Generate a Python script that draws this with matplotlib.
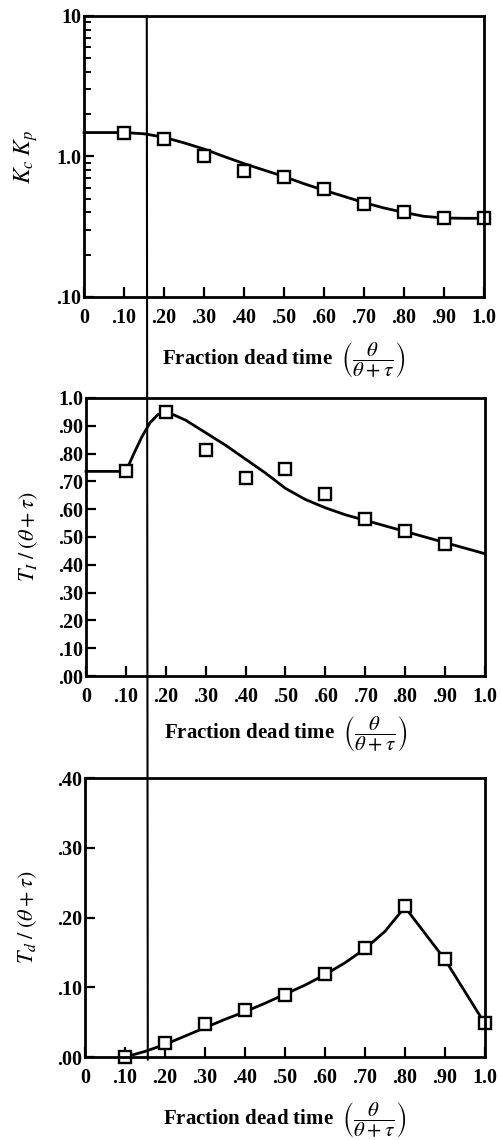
import numpy as np
import matplotlib.pyplot as plt
from matplotlib.patches import ConnectionPatch
from matplotlib.ticker import FixedLocator, LogLocator, NullFormatter

plt.rcParams['font.family'] = ['Liberation Serif', 'DejaVu Serif']
plt.rcParams['mathtext.fontset'] = 'stix'

# eje x comun
frac_ticks = [0, 0.1, 0.2, 0.3, 0.4, 0.5, 0.6, 0.7, 0.8, 0.9, 1.0]
frac_labels = ['0', '.10', '.20', '.30', '.40', '.50', '.60', '.70', '.80', '.90', '1.0']

# Kc*Kp (escala log)
kc_x = [0.1, 0.2, 0.3, 0.4, 0.5, 0.6, 0.7, 0.8, 0.9, 1.0]
kc_pts = [1.48, 1.33, 1.00, 0.79, 0.71, 0.59, 0.46, 0.40, 0.363, 0.363]
kc_curva_x = [0.0, 0.10, 0.15, 0.20, 0.25, 0.30, 0.35, 0.40, 0.45, 0.50, 0.55,
              0.60, 0.65, 0.70, 0.75, 0.80, 0.85, 0.90, 0.95, 1.00]
kc_curva_y = [1.48, 1.48, 1.45, 1.37, 1.25, 1.13, 1.00, 0.89, 0.80, 0.72, 0.64,
              0.575, 0.52, 0.47, 0.43, 0.40, 0.375, 0.365, 0.363, 0.363]

# Ti/(theta+tau)
ti_x = [0.1, 0.2, 0.3, 0.4, 0.5, 0.6, 0.7, 0.8, 0.9]
ti_pts = [0.736, 0.948, 0.814, 0.712, 0.744, 0.654, 0.565, 0.522, 0.475]
ti_curva_x = [0.0, 0.10, 0.12, 0.14, 0.16, 0.18, 0.20, 0.25, 0.30, 0.35, 0.40,
              0.45, 0.50, 0.55, 0.60, 0.65, 0.70, 0.75, 0.80, 0.85, 0.90, 0.95, 1.00]
ti_curva_y = [0.736, 0.736, 0.80, 0.86, 0.91, 0.94, 0.952, 0.92, 0.875, 0.83, 0.78,
              0.73, 0.675, 0.635, 0.605, 0.58, 0.56, 0.54, 0.52, 0.50, 0.48, 0.46, 0.44]

# Td/(theta+tau)
td_x = [0.1, 0.2, 0.3, 0.4, 0.5, 0.6, 0.7, 0.8, 0.9, 1.0]
td_pts = [0.0, 0.020, 0.048, 0.068, 0.089, 0.119, 0.156, 0.216, 0.140, 0.049]
td_curva_x = [0.10, 0.15, 0.20, 0.25, 0.30, 0.35, 0.40, 0.45, 0.50, 0.55, 0.60,
              0.65, 0.70, 0.75, 0.80, 0.90, 1.00]
td_curva_y = [0.0, 0.008, 0.018, 0.030, 0.042, 0.054, 0.065, 0.077, 0.090, 0.103, 0.118,
              0.135, 0.155, 0.180, 0.215, 0.140, 0.048]

linea_x = 0.157  # linea vertical de referencia

fig = plt.figure(figsize=(5.01, 11.4), dpi=100)
ax1 = fig.add_axes([0.1677, 0.7395, 0.798, 0.2465])
ax2 = fig.add_axes([0.1717, 0.4070, 0.796, 0.2439])
ax3 = fig.add_axes([0.1697, 0.0728, 0.798, 0.2447])

xlab = r'Fraction dead time  $\left(\dfrac{\theta}{\theta+\tau}\right)$'
fs = 15
fs_tick = 14.5

for ax in (ax1, ax2, ax3):
    ax.set_xlim(0, 1.0)
    ax.set_xticks(frac_ticks)
    ax.set_xticklabels(frac_labels, fontsize=fs_tick, fontweight='bold')
    ax.tick_params(direction='in', length=7, width=1.6, top=False, right=False, pad=8)
    ax.tick_params(which='minor', direction='in', length=5, width=1.4)
    for s in ax.spines.values():
        s.set_linewidth(2.0)
    ax.set_xlabel(xlab, fontsize=fs, fontweight='bold')
    ax.xaxis.label.set_va('center')

# panel 1
ax1.plot(kc_curva_x, kc_curva_y, color='black', lw=2.0, clip_on=False)
ax1.plot(kc_x, kc_pts, 's', ms=8.5, mfc='white', mec='black', mew=1.7, clip_on=False)
ax1.set_yscale('log')
ax1.set_ylim(0.1, 10)
ax1.yaxis.set_major_locator(FixedLocator([0.1, 1.0, 10]))
ax1.set_yticklabels(['.10', '1.0', '10'], fontsize=fs_tick, fontweight='bold')
ax1.yaxis.set_minor_locator(LogLocator(base=10, subs=np.arange(2, 10)))
ax1.yaxis.set_minor_formatter(NullFormatter())
ax1.tick_params(axis='y', pad=2)
ax1.set_ylabel(r'$K_c\;K_p$', fontsize=17)
ax1.yaxis.set_label_coords(-0.145, 0.5)
ax1.xaxis.set_label_coords(0.5, -0.224)

# panel 2
ax2.plot(ti_curva_x, ti_curva_y, color='black', lw=2.0, clip_on=False)
ax2.plot(ti_x, ti_pts, 's', ms=8.5, mfc='white', mec='black', mew=1.7, clip_on=False)
ax2.set_ylim(0, 1.0)
ti_ticks = [0, .1, .2, .3, .4, .5, .6, .7, .8, .9, 1.0]
ax2.set_yticks(ti_ticks)
ax2.set_yticklabels(['.00', '.10', '.20', '.30', '.40', '.50', '.60', '.70', '.80', '.90', '1.0'],
                    fontsize=fs_tick, fontweight='bold')
ax2.tick_params(axis='y', pad=2)
ax2.set_ylabel(r'$T_I\;/\;(\theta+\tau)$', fontsize=16)
ax2.yaxis.set_label_coords(-0.145, 0.5)
ax2.xaxis.set_label_coords(0.5, -0.21)

# panel 3
ax3.plot(td_curva_x, td_curva_y, color='black', lw=2.0, clip_on=False)
ax3.plot(td_x, td_pts, 's', ms=8.5, mfc='white', mec='black', mew=1.7, clip_on=False)
ax3.set_ylim(0, 0.4)
ax3.set_yticks([0, .1, .2, .3, .4])
ax3.set_yticklabels(['.00', '.10', '.20', '.30', '.40'], fontsize=fs_tick, fontweight='bold')
ax3.tick_params(axis='y', pad=2)
ax3.set_ylabel(r'$T_d\;/\;(\theta+\tau)$', fontsize=16)
ax3.yaxis.set_label_coords(-0.143, 0.5)
ax3.xaxis.set_label_coords(0.5, -0.225)

for ax in (ax1, ax2, ax3):
    ax.yaxis.label.set_va('center')

# linea vertical que cruza los tres paneles
con = ConnectionPatch(xyA=(linea_x, 10), coordsA=ax1.transData,
                      xyB=(linea_x, -0.004), coordsB=ax3.transData,
                      color='black', lw=1.5)
fig.add_artist(con)

fig.savefig('out.png', dpi=100)
